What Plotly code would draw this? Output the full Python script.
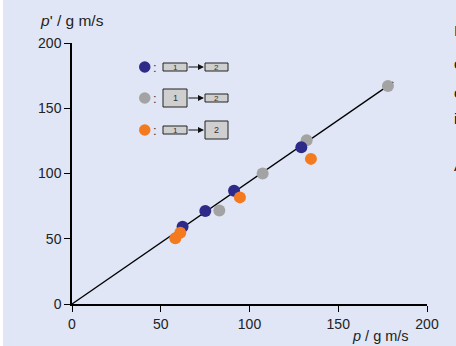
import plotly.graph_objects as go

# Data
blue_p = [62.3, 75.1, 91.3, 129.2]
blue_pp = [59.2, 71.2, 86.8, 120.2]
gray_p = [83.0, 107.4, 132.2, 178.0]
gray_pp = [71.7, 100.0, 125.5, 167.0]
orange_p = [58.2, 61.0, 94.6, 134.6]
orange_pp = [50.3, 54.6, 81.7, 111.2]
line_p = [0, 181]
line_pp = [0, 170]
tick_vals = [0, 50, 100, 150, 200]

BLUE = "#2E2A8A"
GRAY = "#A3A3A3"
ORANGE = "#F47A20"
BG = "#E0E6F6"

W, H = 456, 346
ML, MR, MT, MB = 72, 29, 43, 42
PW = W - ML - MR
PH = H - MT - MB


def px(x):
    return (x - ML) / PW


def py(y):
    return (H - MB - y) / PH


fig = go.Figure()
fig.add_trace(go.Scatter(x=line_p, y=line_pp, mode="lines",
                         line=dict(color="black", width=1.3), showlegend=False,
                         hoverinfo="skip", cliponaxis=False))
for xs, ys, c in [(gray_p, gray_pp, GRAY), (blue_p, blue_pp, BLUE), (orange_p, orange_pp, ORANGE)]:
    fig.add_trace(go.Scatter(x=xs, y=ys, mode="markers",
                             marker=dict(color=c, size=12, line=dict(width=0)),
                             showlegend=False, cliponaxis=False))

shapes = []
annotations = []
FAM = "Liberation Sans, Arial, sans-serif"

# thin white strip at the left edge
shapes.append(dict(type="rect", xref="paper", yref="paper", layer="below",
                   x0=px(0), x1=px(3), y0=py(H), y1=py(0),
                   fillcolor="white", line=dict(width=0)))

# custom legend
rows = [
    (67, BLUE, (63, 71), (63, 71)),
    (98, GRAY, (89, 107), (94, 102)),
    (130, ORANGE, (126, 134), (121, 139)),
]
for yc, col, b1, b2 in rows:
    shapes.append(dict(type="circle", xref="paper", yref="paper",
                       x0=px(139), x1=px(150.5), y0=py(yc + 5.75), y1=py(yc - 5.75),
                       fillcolor=col, line=dict(width=0)))
    annotations.append(dict(x=px(151), y=py(yc), xref="paper", yref="paper",
                            text=":", showarrow=False, xanchor="left", yanchor="middle",
                            font=dict(size=13, family=FAM, color="#333")))
    for (x0, x1), (t, b), lab in [((163, 187), b1, "1"), ((205, 228), b2, "2")]:
        shapes.append(dict(type="rect", xref="paper", yref="paper",
                           x0=px(x0), x1=px(x1), y0=py(b), y1=py(t),
                           fillcolor="#CFCFCF", line=dict(color="#222", width=1)))
        annotations.append(dict(x=px((x0 + x1) / 2), y=py((t + b) / 2), xref="paper", yref="paper",
                                text=lab, showarrow=False, xanchor="center", yanchor="middle",
                                font=dict(size=8 if b - t < 12 else 9, family=FAM, color="#333")))
    # arrow
    annotations.append(dict(x=px(204), y=py(yc), ax=-17, ay=0,
                            xref="paper", yref="paper",
                            text="", showarrow=True, arrowhead=2, arrowsize=1,
                            arrowwidth=1.2, arrowcolor="#111", standoff=0))

# axis titles
annotations.append(dict(x=px(38), y=py(21), xref="paper", yref="paper",
                        xanchor="left", yanchor="middle",
                        text="<i>p</i>' / g m/s", showarrow=False,
                        font=dict(size=15.5, family=FAM, color="#222")))
annotations.append(dict(x=px(411), y=py(336), xref="paper", yref="paper",
                        xanchor="right", yanchor="middle",
                        text="<i>p</i> / g m/s", showarrow=False,
                        font=dict(size=14.5, family=FAM, color="#222")))

# clipped text fragments at right edge
for yc, t in [(30, "In"), (63, "co"), (92, "co"), (118, "in"), (165, "A")]:
    annotations.append(dict(x=px(452), y=py(yc), xref="paper", yref="paper",
                            xanchor="left", yanchor="middle",
                            text=t, showarrow=False,
                            font=dict(size=15, family=FAM, color="#111")))

axis_common = dict(showgrid=False, zeroline=False, showline=True, linecolor="black",
                   linewidth=1.5, ticks="outside", ticklen=6, tickcolor="black", tickwidth=1.3,
                   tickvals=tick_vals, tickfont=dict(size=14, family=FAM, color="#222"),
                   fixedrange=True)

fig.update_layout(
    width=W, height=H,
    margin=dict(l=ML, r=MR, t=MT, b=MB, autoexpand=False),
    paper_bgcolor=BG, plot_bgcolor=BG,
    xaxis=dict(range=[0, 200], **axis_common),
    yaxis=dict(range=[0, 200], **axis_common),
    shapes=shapes, annotations=annotations,
    showlegend=False,
)

fig.write_html("out.html", config={"displayModeBar": False},
               post_script="document.body.style.margin='0';document.body.style.padding='0';")
